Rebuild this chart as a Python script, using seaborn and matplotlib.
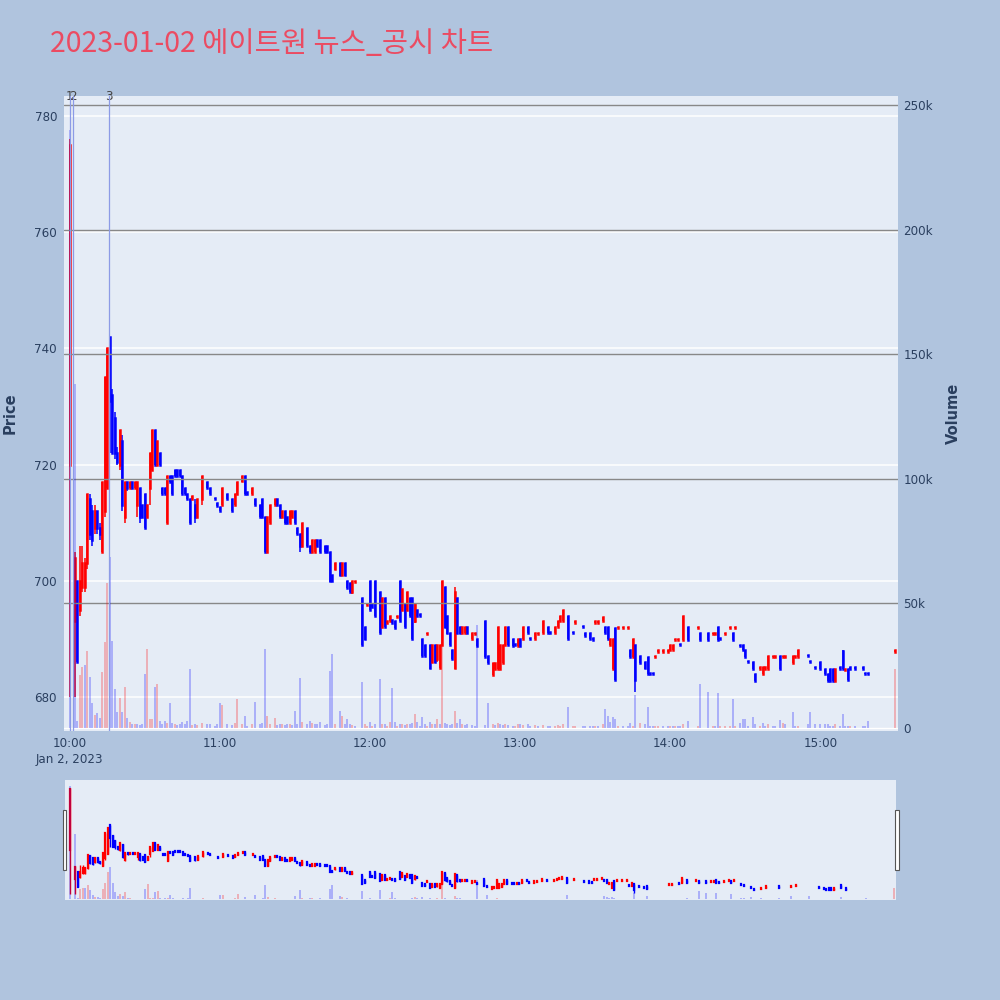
import matplotlib
matplotlib.use("Agg")
import matplotlib.pyplot as plt
import matplotlib.transforms as mtransforms
from matplotlib.patches import Rectangle
import numpy as np
import pandas as pd
import seaborn as sns

TITLE = "2023-01-02 에이트원 뉴스_공시 차트"

# minutes after 10:00 on Jan 2, 2023
minutes = [
    0, 2, 3, 4, 5, 6, 7, 8, 9, 10,
    11, 12, 13, 14, 15, 16, 17, 18, 19, 20,
    21, 22, 23, 24, 25, 26, 27, 28, 29, 30,
    31, 32, 33, 34, 35, 36, 37, 38, 39, 40,
    41, 42, 43, 44, 45, 46, 47, 48, 49, 50,
    51, 53, 55, 56, 58, 59, 60, 61, 63, 65,
    66, 67, 69, 70, 71, 73, 74, 76, 77, 78,
    79, 80, 82, 83, 84, 85, 86, 87, 88, 89,
    90, 91, 92, 93, 95, 96, 97, 98, 99, 100,
    102, 103, 104, 105, 106, 108, 109, 110, 111, 112,
    113, 114, 117, 118, 119, 120, 121, 122, 124, 125,
    126, 127, 128, 129, 130, 131, 132, 133, 134, 135,
    136, 137, 138, 139, 140, 141, 142, 143, 144, 145,
    146, 147, 148, 149, 150, 151, 152, 153, 154, 155,
    156, 157, 158, 159, 161, 162, 163, 166, 167, 169,
    170, 171, 172, 173, 174, 175, 177, 178, 179, 180,
    181, 183, 184, 186, 187, 189, 191, 192, 194, 195,
    196, 197, 199, 201, 202, 205, 206, 208, 209, 210,
    211, 213, 214, 215, 216, 217, 218, 219, 221, 223,
    224, 225, 226, 228, 230, 231, 232, 233, 234, 235,
    237, 239, 240, 241, 242, 243, 244, 245, 247, 251,
    252, 255, 257, 258, 259, 260, 262, 264, 265, 266,
    268, 269, 270, 271, 273, 274, 276, 277, 278, 279,
    281, 282, 284, 285, 286, 289, 290, 291, 295, 296,
    298, 300, 302, 303, 304, 305, 306, 308, 309, 310,
    311, 312, 314, 317, 318, 319, 330,
]
opens = [
    720, 693, 700, 695, 699, 699, 703, 714, 712, 709,
    712, 709, 705, 712, 716, 742, 732, 728, 722, 720,
    724, 711, 717, 716, 717, 716, 713, 716, 713, 715,
    711, 716, 719, 726, 720, 722, 716, 716, 710, 718,
    718, 719, 719, 719, 718, 716, 715, 714, 714, 713,
    711, 714, 717, 716, 714.2, 713.3, 712.7, 713, 715, 714,
    713, 715, 717.2, 718, 715.2, 715, 714, 713, 714, 711,
    705, 710, 713, 714, 713, 711, 712, 711, 710, 711,
    712, 709, 708, 706, 709, 706, 705, 705, 707, 707,
    706, 706, 705, 701, 702, 703, 701, 703, 700, 699.6,
    698, 699.8, 697, 692, 695.8, 700, 696, 700, 698, 692,
    697, 692.8, 693, 693.2, 693, 693.8, 700, 695, 696, 695,
    697, 697, 693, 695, 694.2, 690, 689, 690.8, 689, 686,
    689, 686.6, 685, 689, 699, 694, 691, 688, 685, 697,
    692, 691, 691, 692, 690, 690.8, 690, 693, 687, 683.8,
    684.8, 684.8, 684.8, 685.9, 689, 692, 690, 689.2, 688.8, 690,
    690, 692, 690.2, 690, 690.8, 691, 692, 691.2, 691, 692,
    693, 693, 694, 691.2, 692.8, 692.2, 691, 691, 690.2, 692.8,
    692.8, 693, 692, 692, 689, 684.9, 691.8, 691.8, 691.8, 691.8,
    688, 686.8, 689, 687, 686, 686.8, 684.2, 684.2, 686.8, 687.8,
    687.8, 687.8, 688, 688, 689.8, 689.8, 689.2, 689.8, 692, 691.8,
    691, 691, 690.8, 690.8, 692, 690.2, 690.8, 691.8, 691, 691.8,
    689, 689, 688, 686.2, 686, 684, 684.9, 684, 684.8, 684.8,
    686.8, 686.8, 687, 686.8, 686.8, 685.8, 686.8, 686.8, 687.2, 686.2,
    685.2, 686, 684.9, 684, 684.9, 684.9, 682.8, 685.1, 687.9, 684.7,
    684.9, 685.1, 685.1, 685.1, 684.2, 684.2, 687.8,
]
highs = [
    776, 705, 700, 706, 706, 704, 715, 715, 713, 713,
    712, 710, 717, 735, 740, 742, 733, 729, 723, 726,
    725, 717, 717, 717, 717, 717, 717, 716, 713, 715,
    713, 722, 726, 726, 724, 722, 716, 716, 718, 718,
    718, 719, 719, 719, 718, 716, 715, 714, 714.5, 714,
    714, 718, 717, 716, 714.2, 713.3, 712.7, 716, 715, 714,
    715, 717, 718, 718, 715.2, 716, 714, 713, 714, 711,
    711, 713, 714, 714, 713, 712, 712, 711, 712, 712,
    712, 709, 708, 710, 709, 706, 707, 707, 707, 707,
    706, 706, 705, 701, 703, 703, 703, 703, 700, 699.6,
    700, 700, 697, 692, 696, 700, 696, 700, 698, 697,
    697, 693, 694, 693.2, 693, 694, 700, 698.5, 696, 698,
    697, 697, 696, 695, 694.2, 690, 689, 691, 689, 689,
    689, 689, 689, 700, 699, 694, 691, 688, 699, 697,
    692, 692, 692, 692, 691, 691, 690, 693, 687, 685.9,
    685.9, 692, 689, 689, 692, 692, 690, 689.2, 690, 690,
    692, 692, 690.2, 691, 691, 693, 692, 691.2, 692, 693,
    694, 695, 694, 691.2, 693, 692.2, 691, 691, 690.2, 693,
    693, 693.8, 692, 692, 690, 690, 691.8, 692, 692, 692,
    688, 690, 689, 687, 686, 686.8, 684.2, 684.2, 687, 688,
    688, 688, 689, 689, 690, 690, 689.2, 694, 692, 692,
    691, 691, 691, 691, 692, 690.2, 691, 692, 691, 692,
    689, 689, 688, 686.2, 686, 684, 685.1, 685.1, 685.1, 687,
    687, 687, 687, 687, 687, 687, 687, 688, 687.2, 686.2,
    685.2, 686, 684.9, 684, 684.9, 684.9, 684.9, 685.1, 688, 684.9,
    684.9, 685.1, 685.1, 685.1, 684.2, 684.2, 688,
]
lows = [
    680, 680, 686, 694, 698, 698, 702, 707, 706, 708,
    708, 707, 705, 711, 716, 722, 722, 721, 720, 719,
    712, 710, 715.5, 716, 716, 716, 711, 710, 711, 709,
    711, 713, 719, 720, 720, 720, 715, 715, 710, 717,
    715, 718, 718, 718, 715, 715, 714, 710, 714, 710,
    711, 713, 716, 715, 714, 712.8, 712, 713, 714, 712,
    713, 715, 717, 715, 715, 715, 713, 711, 711, 705,
    705, 709.9, 713, 713, 711, 711, 710, 710, 710, 711,
    710, 708, 705, 705.9, 706, 705, 705, 705, 706, 705,
    705, 704.7, 699.8, 699.8, 701.8, 700.8, 700.8, 700.8, 698.7, 698,
    697.8, 699.8, 689, 689.8, 695.8, 695, 695.5, 694, 691, 692,
    692, 692.8, 693, 692.8, 691.8, 693.8, 693, 695, 692, 695,
    694, 690, 692.8, 694, 694, 687, 687, 690.8, 684.9, 685.8,
    685.8, 686, 685, 689, 691.8, 690.9, 689, 686.6, 684.9, 690.9,
    690.9, 691, 691, 691, 689.9, 690.8, 688.8, 686.8, 685.8, 683.8,
    684.8, 684.8, 684.8, 685.9, 689, 689, 688.8, 689, 688.8, 688.8,
    690, 691, 690, 690, 690.8, 691, 691, 691, 691, 692,
    693, 693, 689.9, 691, 692.8, 692, 690.5, 690, 689.8, 692.8,
    692.8, 693, 691, 689.9, 689, 684.9, 682.9, 691.8, 691.8, 691.8,
    686.8, 686.8, 680.9, 685.8, 684.9, 684, 684, 684, 686.8, 687.8,
    687.8, 687.8, 688, 688, 689.8, 689.8, 689, 689.8, 689.8, 691.8,
    689.8, 689.8, 690.8, 690.8, 689.8, 690, 690.8, 691.8, 689.8, 691.8,
    688.8, 688, 686.8, 686, 684.8, 682.8, 684.9, 684, 684.8, 684.8,
    686.8, 686.8, 684.8, 686.8, 686.8, 685.8, 686.8, 686.8, 687, 686,
    685, 684.9, 684, 682.8, 682.8, 682.8, 682.8, 684.9, 684.9, 684.7,
    683, 684.9, 684.9, 684.9, 684, 684, 687.8,
]
closes = [
    775, 704, 686, 700, 703, 703, 715, 708, 707, 712,
    709, 708, 717, 735, 740, 731, 722, 722, 720.5, 726,
    713, 717, 716, 717, 716, 717, 717, 711, 711, 709,
    713, 722, 726, 720, 724, 720, 715, 715, 718, 717,
    715, 718, 718, 718, 715, 715, 714, 710, 714.5, 711,
    714, 718, 716, 715, 714, 712.8, 712, 716, 714, 712,
    715, 717, 718, 715, 715, 716, 713, 711, 711, 705,
    711, 713, 714, 713, 711, 712, 710, 710, 712, 712,
    710, 708, 706, 710, 706, 705, 707, 707, 706, 705,
    705, 705, 700, 700, 703, 701, 703, 701, 698.7, 698,
    700, 700, 689, 690, 696, 695, 695.5, 694, 691, 697,
    692, 693, 694, 692.8, 691.8, 694, 693, 698.5, 692, 698,
    694, 690, 696, 694, 694, 687, 687, 691, 685, 689,
    686, 689, 689, 700, 692, 691, 689, 686.6, 698, 691,
    691, 692, 692, 691, 691, 691, 688.8, 686.8, 685.8, 685.9,
    685.9, 692, 689, 689, 692, 689, 688.8, 689, 690, 688.8,
    692, 691, 690, 691, 691, 693, 691, 691, 692, 693,
    694, 695, 690, 691, 693, 692, 690.5, 690, 689.8, 693,
    693, 693.8, 691, 690, 690, 689.9, 683, 692, 692, 692,
    686.8, 690, 683, 685.8, 685, 684, 684, 684, 687, 688,
    688, 688, 689, 689, 690, 690, 689, 694, 689.8, 692,
    689.8, 689.8, 691, 691, 689.8, 690, 691, 692, 689.8, 692,
    688.8, 688, 686.8, 686, 684.8, 682.8, 685.1, 685.1, 685.1, 687,
    687, 687, 684.8, 687, 687, 687, 687, 688, 687, 686,
    685, 684.9, 684, 682.8, 682.8, 682.8, 684.9, 684.9, 684.9, 684.9,
    683, 684.9, 684.9, 684.9, 684, 684, 688,
]
volumes = [
    240000, 138000, 3000, 21300, 24300, 25300, 31000, 20400, 10000, 5300,
    6000, 4000, 22500, 34500, 58000, 68700, 35000, 15600, 6600, 12000,
    6500, 16600, 4000, 2500, 1600, 1600, 1500, 1200, 1500, 21500,
    31800, 3600, 3600, 16600, 17500, 3000, 1500, 3000, 2000, 10000,
    2000, 1500, 1200, 1500, 2500, 1500, 3000, 23500, 1200, 1600,
    1200, 2000, 1500, 1500, 1000, 1500, 10000, 9400, 1500, 1200,
    2000, 11700, 1500, 4800, 1000, 1500, 10300, 1500, 2000, 31700,
    5000, 1500, 4000, 1200, 1500, 1500, 1200, 1500, 1500, 1200,
    6800, 1500, 19900, 2500, 1500, 3000, 2000, 1500, 1500, 2500,
    1200, 1500, 23000, 29700, 1500, 6900, 5000, 1500, 3500, 1500,
    1200, 1000, 18600, 1500, 1000, 2300, 1000, 1500, 19500, 1500,
    1500, 1000, 2300, 15900, 2300, 1000, 1500, 1500, 1200, 1500,
    1500, 2000, 5600, 2600, 1000, 4600, 1500, 1000, 2300, 1500,
    1500, 3500, 1500, 33300, 2000, 1500, 1200, 1500, 6700, 2000,
    3800, 1500, 1200, 1500, 1200, 1000, 41300, 1200, 10000, 1500,
    1200, 2200, 1500, 1200, 1500, 1200, 1000, 1000, 1500, 1500,
    1200, 1500, 1000, 1200, 1000, 1200, 1000, 1000, 1000, 1200,
    1000, 1500, 8600, 1000, 1000, 1000, 1000, 1000, 1000, 1000,
    1000, 1500, 7500, 5000, 2500, 4600, 3500, 1000, 1000, 1000,
    1900, 1000, 13200, 1900, 1500, 8300, 1000, 1000, 1000, 1000,
    1000, 1000, 1000, 1000, 1000, 1000, 1000, 1500, 2900, 1000,
    17500, 14600, 1000, 1000, 14200, 1000, 1000, 1000, 11500, 1000,
    1900, 3500, 3500, 1000, 4300, 1600, 1000, 2000, 1000, 1500,
    1000, 1000, 3200, 1900, 1500, 6600, 1000, 1000, 1500, 6600,
    1500, 1500, 1500, 1500, 1000, 1000, 1500, 1000, 5600, 1000,
    1000, 1000, 1000, 1000, 1000, 2900, 23500,
]

# news / disclosure markers (minutes after 10:00)
news_minutes = [0.1, 1.3, 15.7]
news_labels = ["1", "2", "3"]

hour_ticks = [0, 60, 120, 180, 240, 300]
hour_labels = ["10:00\nJan 2, 2023", "11:00", "12:00", "13:00", "14:00", "15:00"]
price_ticks = [680, 700, 720, 740, 760, 780]
volume_ticks = [0, 50000, 100000, 150000, 200000, 250000]
volume_labels = ["0", "50k", "100k", "150k", "200k", "250k"]

UP = "#FF0000"
DOWN = "#0000FF"
PAPER = "#B0C4DE"
PLOT_BG = "#E5ECF6"
TEXT = "#2A3F5F"
X_RANGE = (-2.2, 331)
PRICE_RANGE = (674.15, 783.4)
VOLUME_RANGE = (-1200, 253600)


def build_frame():
    df = pd.DataFrame({
        "minute": minutes, "open": opens, "high": highs,
        "low": lows, "close": closes, "volume": volumes,
    })
    prev = df["close"].shift(1)
    df["vol_dir"] = np.where(df["close"] > prev, "up", "down")
    return df


def draw_candles(ax, df, body_lw, wick_lw):
    colors = np.where(df["close"] > df["open"], UP, DOWN)
    ax.vlines(df["minute"], df["low"], df["high"], colors=colors, linewidth=wick_lw)
    bodies = ax.vlines(
        df["minute"],
        df[["open", "close"]].min(axis=1),
        df[["open", "close"]].max(axis=1),
        colors=colors,
        linewidth=body_lw,
    )
    bodies.set_capstyle("projecting")


def draw_volume(ax, df):
    sns.histplot(
        data=df, x="minute", weights="volume", hue="vol_dir",
        hue_order=["up", "down"], palette={"up": UP, "down": DOWN},
        discrete=True, shrink=0.8, alpha=0.25, linewidth=0,
        legend=False, ax=ax,
    )


def clean(ax):
    for spine in ax.spines.values():
        spine.set_visible(False)
    ax.set_xlabel("")
    ax.set_ylabel("")


def main():
    sns.set_theme(style="white")
    plt.rcParams["font.family"] = ["DejaVu Sans"]
    df = build_frame()

    fig = plt.figure(figsize=(10, 10), dpi=100, facecolor=PAPER)

    # main chart
    ax = fig.add_axes([0.064, 0.269, 0.834, 0.635])
    ax.set_facecolor(PLOT_BG)
    ax.set_xlim(*X_RANGE)
    ax.set_ylim(*PRICE_RANGE)
    ax.set_yticks(price_ticks)
    ax.yaxis.grid(True, color="white", linewidth=1.1)
    ax.xaxis.grid(False)
    draw_candles(ax, df, body_lw=1.8, wick_lw=1.1)

    vax = ax.twinx()
    draw_volume(vax, df)
    vax.set_xlim(*X_RANGE)
    vax.set_ylim(*VOLUME_RANGE)
    vax.set_yticks(volume_ticks)
    vax.set_yticklabels(volume_labels)
    vax.yaxis.grid(True, color="#888888", linewidth=1.0)
    vax.xaxis.grid(False)
    vax.yaxis.get_gridlines()[0].set_color("white")

    ax.set_xticks(hour_ticks)
    ax.set_xticklabels(hour_labels)
    ax.get_xticklabels()[0].set_linespacing(1.3)
    ax.tick_params(axis="x", length=0, pad=4, labelsize=8.6, labelcolor=TEXT)
    ax.tick_params(axis="y", length=0, pad=5, labelsize=8.6, labelcolor=TEXT)
    vax.tick_params(axis="y", length=0, pad=4, labelsize=8.6, labelcolor=TEXT)
    clean(ax)
    clean(vax)

    trans = mtransforms.blended_transform_factory(ax.transData, ax.transAxes)
    for m, label in zip(news_minutes, news_labels):
        vax.axvline(m, color="#8C9BE6", linewidth=0.9, zorder=5)
        ax.text(m, 0.999, label, transform=trans, ha="center", va="center",
                fontsize=8.6, color="#444444", zorder=6)

    fig.text(0.05, 0.956, TITLE, fontsize=20.5, color="#EB4B62", ha="left", va="center",
             family=["Noto Sans CJK KR", "DejaVu Sans"])
    fig.text(0.010, 0.587, "Price", rotation=90, fontsize=10.5, fontweight="bold",
             color=TEXT, ha="center", va="center")
    fig.text(0.953, 0.587, "Volume", rotation=90, fontsize=10.5, fontweight="bold",
             color=TEXT, ha="center", va="center")

    # range slider
    sl = fig.add_axes([0.065, 0.10, 0.831, 0.12])
    sl.set_facecolor(PLOT_BG)
    sl.set_xlim(*X_RANGE)
    sl.set_ylim(*PRICE_RANGE)
    draw_candles(sl, df, body_lw=1.6, wick_lw=1.0)
    svax = sl.twinx()
    draw_volume(svax, df)
    svax.set_xlim(*X_RANGE)
    svax.set_ylim(*VOLUME_RANGE)
    for a in (sl, svax):
        a.set_xticks([])
        a.set_yticks([])
        a.grid(False)
        clean(a)
    for hx in (-0.0030, 0.9986):
        svax.add_patch(Rectangle((hx, 0.25), 0.0046, 0.5, transform=sl.transAxes,
                                 facecolor="white", edgecolor="#555555", linewidth=0.8,
                                 clip_on=False, zorder=10))

    fig.savefig("out.png", dpi=100, facecolor=PAPER)


if __name__ == "__main__":
    main()
